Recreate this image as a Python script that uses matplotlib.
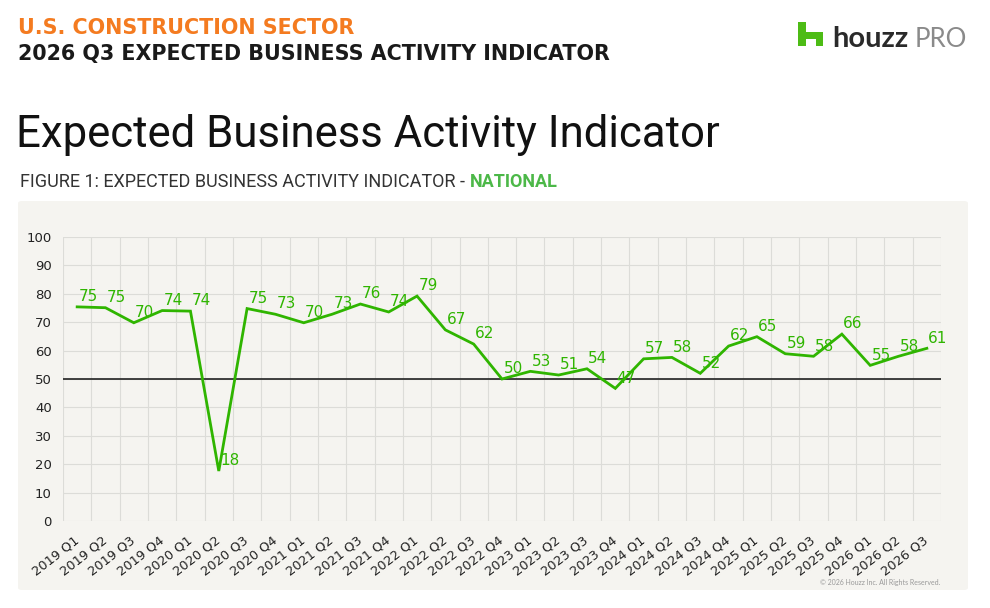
import matplotlib
matplotlib.use("Agg")
import matplotlib.pyplot as plt
from matplotlib import font_manager
from matplotlib.patches import FancyBboxPatch, Polygon
from matplotlib.transforms import ScaledTranslation

# data
quarters = [
    "2019 Q1", "2019 Q2", "2019 Q3", "2019 Q4",
    "2020 Q1", "2020 Q2", "2020 Q3", "2020 Q4",
    "2021 Q1", "2021 Q2", "2021 Q3", "2021 Q4",
    "2022 Q1", "2022 Q2", "2022 Q3", "2022 Q4",
    "2023 Q1", "2023 Q2", "2023 Q3", "2023 Q4",
    "2024 Q1", "2024 Q2", "2024 Q3", "2024 Q4",
    "2025 Q1", "2025 Q2", "2025 Q3", "2025 Q4",
    "2026 Q1", "2026 Q2", "2026 Q3",
]
values = [
    75.4, 75.1, 69.8, 74.1,
    73.9, 17.6, 74.8, 72.8,
    69.8, 72.8, 76.4, 73.6,
    79.2, 67.3, 62.3, 50.0,
    52.7, 51.4, 53.6, 46.7,
    57.1, 57.6, 52.0, 61.6,
    64.9, 58.9, 58.0, 65.8,
    54.8, 58.0, 60.8,
]
labels = [f"{v:.0f}" for v in values]
y_ticks = [0, 10, 20, 30, 40, 50, 60, 70, 80, 90, 100]

GREEN = "#2fb500"
ORANGE = "#f47b20"
PANEL = "#f5f4f0"

installed = {f.name for f in font_manager.fontManager.ttflist}
BASE = "Lato" if "Lato" in installed else "DejaVu Sans"
NARROW = "Roboto" if "Roboto" in installed else "DejaVu Sans"

plt.rcParams["font.family"] = [BASE, "DejaVu Sans"]

W, H = 990, 608
fig = plt.figure(figsize=(W / 100, H / 100), dpi=100)
fig.patch.set_facecolor("white")


def fx(px):
    return px / W


def fy(py):
    return 1 - py / H


# grey panel behind the chart
panel = FancyBboxPatch((fx(18), fy(590)), fx(968) - fx(18), fy(201) - fy(590),
                       boxstyle="round,pad=0,rounding_size=0.004",
                       transform=fig.transFigure, facecolor=PANEL,
                       edgecolor="none", zorder=-5)
fig.patches.append(panel)

# header texts
fig.text(fx(18), fy(34), "U.S. CONSTRUCTION SECTOR", color=ORANGE,
         fontsize=14.9, fontweight="bold", family="DejaVu Sans",
         va="baseline", ha="left")
fig.text(fx(18), fy(60), "2026 Q3 EXPECTED BUSINESS ACTIVITY INDICATOR",
         color="#1a1a1a", fontsize=14.9, fontweight="bold", family="DejaVu Sans",
         va="baseline", ha="left")
fig.text(fx(16), fy(147), "Expected Business Activity Indicator", color="#111111",
         fontsize=31.5, family=NARROW, va="baseline", ha="left")
cap = fig.text(fx(20), fy(187), "FIGURE 1: EXPECTED BUSINESS ACTIVITY INDICATOR - ",
               color="#333333", fontsize=13, family=NARROW, va="baseline", ha="left")
fig.canvas.draw()
bb = cap.get_window_extent()
fig.text(bb.x1 / W, fy(187), "NATIONAL", color="#4cb848", fontsize=13,
         family=NARROW, fontweight="bold", va="baseline", ha="left")

# houzz pro logo
icon = [(798, 46), (798, 22), (806, 22), (806, 32), (823, 32), (823, 46),
        (816, 46), (816, 39), (806, 39), (806, 46)]
fig.patches.append(Polygon([(fx(a), fy(b)) for a, b in icon], closed=True,
                           transform=fig.transFigure, facecolor="#4dbc15",
                           edgecolor="none"))
logo = fig.text(fx(832), fy(47), "houzz", color="#2a2a2a", fontsize=21,
                fontweight="bold", va="baseline", ha="left")
fig.canvas.draw()
lb = logo.get_window_extent()
fig.text(lb.x1 / W + 0.006, fy(47), "PRO", color="#8a8a8a", fontsize=18.5,
         va="baseline", ha="left")

# chart
ax = fig.add_axes([fx(63), fy(521), fx(941) - fx(63), fy(237) - fy(521)])
ax.set_facecolor(PANEL)
x = list(range(len(quarters)))
ax.set_xlim(-0.5, len(quarters) - 0.5)
ax.set_ylim(0, 100)

ax.set_xticks([i - 0.5 for i in range(len(quarters) + 1)], minor=True)
ax.set_yticks(y_ticks)
ax.grid(which="minor", axis="x", color="#dcdcd8", lw=0.8)
ax.grid(which="major", axis="y", color="#dcdcd8", lw=0.8)
ax.set_axisbelow(True)
for s in ax.spines.values():
    s.set_visible(False)

ax.axhline(50, color="#222222", lw=1.2, zorder=2)
ax.plot(x, values, color=GREEN, lw=2.0, zorder=3, solid_joinstyle="miter")
for xi, v, lab in zip(x, values, labels):
    ax.annotate(lab, (xi, v), xytext=(1, 2), textcoords="offset points",
                ha="left", va="bottom", color=GREEN, fontsize=11,
                family="DejaVu Sans", zorder=4)

ax.set_xticks(x)
ax.set_xticklabels(quarters, rotation=38, ha="right", va="center",
                   rotation_mode="anchor", fontsize=9.3, family="DejaVu Sans",
                   color="#222222")
shift = ScaledTranslation(4 / 100, 0, fig.dpi_scale_trans)
for t in ax.get_xticklabels():
    t.set_transform(t.get_transform() + shift)
ax.tick_params(axis="x", which="both", length=0, pad=13)
ax.tick_params(axis="y", length=0, pad=8)
for t in ax.get_yticklabels():
    t.set_fontfamily("DejaVu Sans")
    t.set_fontsize(9.5)
    t.set_color("#222222")

fig.text(fx(940), fy(585), "\u00a9 2026 Houzz Inc. All Rights Reserved.",
         color="#9a9a9a", fontsize=5, ha="right", va="baseline")

fig.savefig("out.png", dpi=100, facecolor="white")
